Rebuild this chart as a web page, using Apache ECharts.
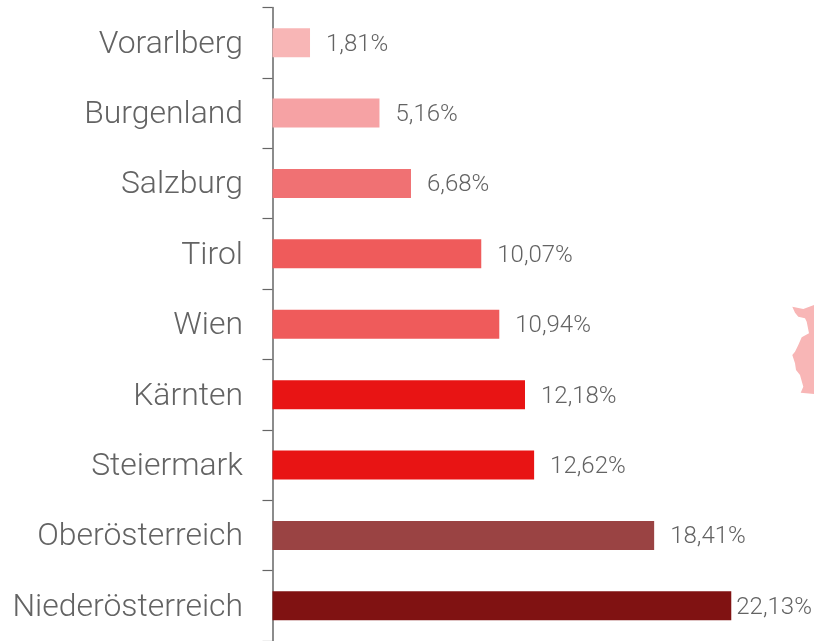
<!DOCTYPE html>
<html><head><meta charset="utf-8">
<style>html,body{margin:0;padding:0;background:#fff}#c{width:814px;height:641px}</style>
<script src="https://cdn.jsdelivr.net/npm/echarts@6/dist/echarts.min.js"></script>
</head><body><div id="c"></div>
<script>
const categories = ['Vorarlberg','Burgenland','Salzburg','Tirol','Wien','Kärnten','Steiermark','Oberösterreich','Niederösterreich'];
const shares = [1.81,5.16,6.68,10.07,10.94,12.18,12.62,18.41,22.13];
const shareLabels = ['1,81%','5,16%','6,68%','10,07%','10,94%','12,18%','12,62%','18,41%','22,13%'];
const barColors = ['#f8b6b6','#f6a2a4','#f07173','#ef5b5b','#ef5b5b','#e81414','#e81414','#9a4343','#801212'];
const labelGaps = [16,16,16,16,16,16,16,16,5];
const chart = echarts.init(document.getElementById('c'), null, {renderer:'canvas'});
chart.setOption({
  animation:false,
  grid:{left:272.5,top:7.5,width:539,height:634.5,containLabel:false},
  xAxis:{type:'value',min:0,max:26,show:false},
  yAxis:{type:'category',inverse:true,data:categories,offset:0.5,
    axisLine:{show:true,lineStyle:{color:'#666',width:1.5}},
    axisTick:{show:true,length:10,alignWithLabel:false,lineStyle:{color:'#666',width:1.2}},
    axisLabel:{margin:29,color:'#636363',fontFamily:'Roboto',fontWeight:300,fontSize:31.9,verticalAlign:'top',lineHeight:4}},
  series:[{type:'bar',barWidth:29,
    data:shares.map((v,i)=>({value:v,itemStyle:{color:barColors[i]},
      label:{distance:labelGaps[i]}})),
    label:{show:true,position:'right',offset:[0,2],color:'#636363',fontFamily:'Roboto',fontWeight:300,fontSize:24,
      formatter:p=>shareLabels[p.dataIndex]}}],
  graphic:[{type:'polygon',silent:true,
    shape:{points:[[792.3,306.7],[803.3,309],[814,305],[814,394],[800.7,392.7],[803.3,386.7],[800,375],[796,370],[795,363.3],[792.3,355],[795,351.7],[798.3,345],[801.7,337.3],[809,333.3],[806.7,321.7],[805,318.3],[798.3,316.7],[795,312.7]]},
    style:{fill:'#f8b6b6'}}]
});
</script></body></html>
